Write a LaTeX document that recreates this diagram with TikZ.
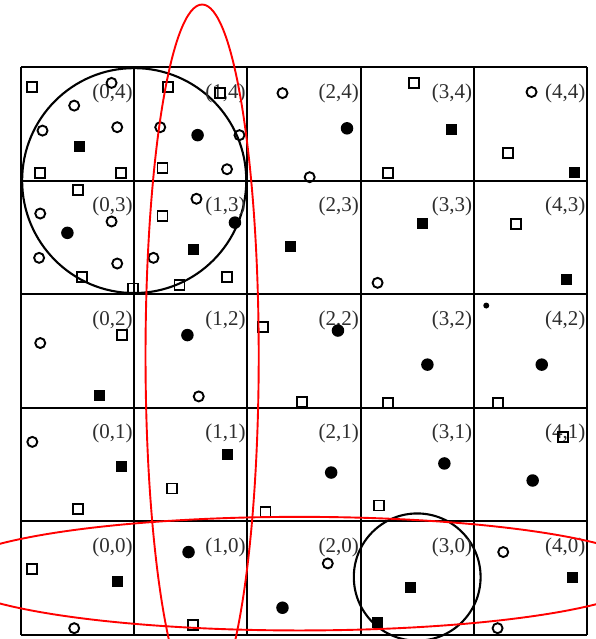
\documentclass[tikz,border=0pt]{standalone}
\usepackage{fontspec}
\setmainfont{Liberation Serif}
\usepackage{tikz}

\begin{document}
\begin{tikzpicture}[
    x=113.2pt, y=113.6pt,
    cellline/.style={line width=2.1pt},
    lbl/.style={anchor=east, inner sep=1.5pt, font=\fontsize{21}{21}\selectfont, text=black!82},
    ocirc/.style={circle, draw, line width=1.9pt, minimum size=10pt, inner sep=0pt},
    osq/.style={rectangle, draw, line width=1.9pt, minimum size=10pt, inner sep=0pt},
    fcirc/.style={circle, fill, minimum size=12.5pt, inner sep=0pt},
    fsq/.style={rectangle, fill, minimum size=11pt, inner sep=0pt},
    region/.style={red, line width=1.9pt}
]
\useasboundingbox (-21pt,-4pt) rectangle (575pt,635pt);
\clip (-21pt,-4pt) rectangle (575pt,635pt);

% grid of cells
\foreach \k in {0,...,5} {
  \draw[cellline] (\k,0) -- (\k,5);
  \draw[cellline] (0,\k) -- (5,\k);
}

% query circles
\draw[cellline] (1,4) circle (0.99);
\draw[cellline] (3.5,0.51) circle (0.56);

% cell labels
\foreach \i in {0,...,4}
  \foreach \j in {0,...,4}
    \node[lbl] (lab\i\j) at (\i+1,\j+0.77) {(\i,\j)};

% data points
\foreach \p [count=\k] in {
  (0.80,4.86), (0.47,4.66), (0.85,4.47), (0.19,4.44), (1.23,4.47),
  (1.93,4.40), (1.82,4.10), (0.17,3.71), (0.80,3.64), (0.16,3.32),
  (0.85,3.27), (1.55,3.84), (1.17,3.32), (2.31,4.77), (2.55,4.03),
  (4.51,4.78), (3.15,3.10), (0.17,2.57), (1.57,2.10), (0.10,1.70),
  (0.47,0.06), (2.71,0.63), (4.26,0.73), (4.21,0.06)}
  \node[ocirc] (oc\k) at \p {};

\foreach \p [count=\k] in {
  (0.10,4.82), (1.30,4.82), (1.76,4.77), (0.17,4.07), (0.88,4.07),
  (1.25,4.11), (0.50,3.92), (1.25,3.69), (0.54,3.15), (0.99,3.05),
  (1.82,3.15), (1.40,3.08), (3.47,4.86), (3.24,4.07), (4.30,4.24),
  (4.37,3.62), (0.89,2.64), (2.14,2.71), (0.50,1.11), (1.33,1.29),
  (2.16,1.08), (2.48,2.05), (3.24,2.04), (4.21,2.04), (3.16,1.14),
  (4.79,1.74), (0.10,0.58), (1.52,0.09)}
  \node[osq] (os\k) at \p {};

\foreach \p [count=\k] in {
  (1.56,4.40), (1.89,3.63), (0.41,3.54), (2.88,4.46), (1.47,2.64),
  (2.80,2.68), (3.59,2.38), (4.60,2.38), (2.74,1.43), (3.74,1.51),
  (4.52,1.36), (1.48,0.73), (2.31,0.24)}
  \node[fcirc] (fc\k) at \p {};
\node[fcirc, minimum size=6pt] (fc14) at (4.11,2.90) {};

\foreach \p [count=\k] in {
  (0.52,4.30), (1.52,3.39), (2.38,3.42), (3.80,4.45), (4.89,4.07),
  (3.55,3.62), (4.82,3.13), (0.69,2.11), (0.89,1.48), (1.82,1.59),
  (0.85,0.47), (3.44,0.42), (4.87,0.51), (3.15,0.11)}
  \node[fsq] (fs\k) at \p {};

% search regions
\draw[region] (1.60,2.46) ellipse (0.50 and 3.09);
\draw[region] (2.46,0.54) ellipse (3.11 and 0.50);
\end{tikzpicture}
\end{document}
